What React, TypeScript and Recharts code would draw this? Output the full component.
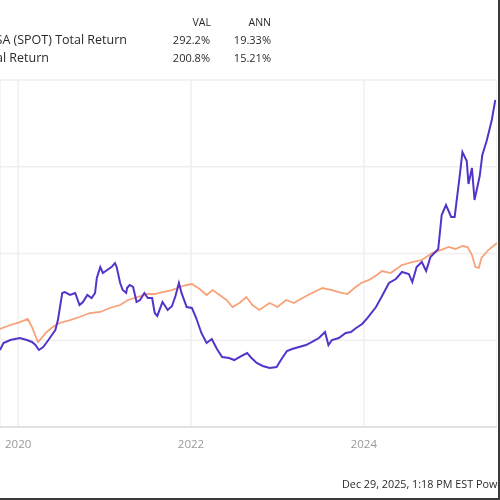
import { LineChart, Line, XAxis, YAxis, CartesianGrid } from 'recharts';

// decimal years and total return (%)
const spotDates = [
  2019.79, 2019.83, 2019.91, 2020.02, 2020.1, 2020.16, 2020.2, 2020.24, 2020.29, 2020.35,
  2020.39, 2020.43, 2020.46, 2020.51, 2020.54, 2020.6, 2020.66, 2020.71, 2020.75, 2020.8,
  2020.85, 2020.89, 2020.91, 2020.95, 2020.98, 2021.03, 2021.08, 2021.12, 2021.14, 2021.18,
  2021.21, 2021.25, 2021.26, 2021.29, 2021.33, 2021.37, 2021.41, 2021.46, 2021.5, 2021.55,
  2021.58, 2021.61, 2021.67, 2021.73, 2021.78, 2021.82, 2021.86, 2021.89, 2021.95, 2022.01,
  2022.06, 2022.12, 2022.18, 2022.24, 2022.3, 2022.36, 2022.44, 2022.5, 2022.58, 2022.65,
  2022.7, 2022.76, 2022.83, 2022.91, 2022.99, 2023.04, 2023.11, 2023.17, 2023.25, 2023.33,
  2023.4, 2023.48, 2023.55, 2023.59, 2023.63, 2023.71, 2023.79, 2023.85, 2023.91, 2023.98,
  2024.04, 2024.14, 2024.21, 2024.29, 2024.37, 2024.44, 2024.52, 2024.56, 2024.61, 2024.67,
  2024.72, 2024.77, 2024.86, 2024.9, 2024.95, 2025.01, 2025.05, 2025.11, 2025.14, 2025.19,
  2025.21, 2025.25, 2025.28, 2025.34, 2025.37, 2025.42, 2025.48, 2025.52,
];
const spotValues = [
  88.8, 96.8, 100.3, 102.6, 100.3, 98.0, 94.5, 88.8, 92.2, 100.3,
  106.0, 111.8, 123.3, 154.5, 155.6, 152.2, 154.5, 140.6, 144.1, 152.2,
  148.7, 154.5, 171.8, 184.4, 177.5, 181.0, 184.4, 189.0, 184.4, 166.0,
  157.9, 154.5, 160.2, 163.7, 161.4, 144.1, 146.4, 154.5, 148.7, 148.7,
  131.4, 128.0, 144.1, 134.9, 139.5, 151.0, 166.0, 154.5, 138.3, 137.2,
  125.6, 108.4, 96.8, 101.4, 89.9, 80.7, 79.5, 77.2, 81.8, 85.3,
  79.5, 73.8, 70.3, 68.0, 69.2, 77.2, 87.6, 89.9, 92.2, 94.5,
  98.0, 102.6, 109.5, 94.5, 100.3, 102.6, 108.4, 109.5, 114.1, 118.7,
  125.6, 138.3, 151.0, 166.0, 170.6, 178.7, 176.4, 167.1, 184.4, 190.2,
  179.8, 196.0, 205.2, 244.4, 255.9, 242.1, 242.1, 290.5, 317.0, 306.6,
  280.1, 298.6, 261.7, 289.3, 313.5, 329.7, 353.9, 376.9,
];

const spxDates = [
  2019.79, 2019.91, 2020.02, 2020.11, 2020.16, 2020.21, 2020.23, 2020.28, 2020.33, 2020.4,
  2020.48, 2020.6, 2020.71, 2020.83, 2020.95, 2021.06, 2021.18, 2021.27, 2021.35, 2021.49,
  2021.58, 2021.67, 2021.78, 2021.87, 2021.95, 2022.01, 2022.1, 2022.18, 2022.25, 2022.33,
  2022.41, 2022.48, 2022.56, 2022.64, 2022.71, 2022.79, 2022.91, 2023.0, 2023.1, 2023.19,
  2023.29, 2023.4, 2023.52, 2023.63, 2023.71, 2023.81, 2023.89, 2023.97, 2024.06, 2024.15,
  2024.21, 2024.31, 2024.44, 2024.56, 2024.67, 2024.79, 2024.89, 2024.98, 2025.06, 2025.14,
  2025.2, 2025.25, 2025.29, 2025.33, 2025.36, 2025.44, 2025.54,
];
const spxValues = [
  113.0, 117.6, 121.0, 124.5, 115.3, 102.6, 98.0, 103.7, 109.5, 115.3,
  119.9, 123.3, 126.8, 131.4, 132.6, 137.2, 140.6, 146.4, 148.7, 153.3,
  153.3, 155.6, 157.9, 161.4, 163.7, 164.8, 159.1, 152.2, 157.9, 152.2,
  146.4, 138.3, 142.9, 149.9, 140.6, 134.9, 142.9, 138.3, 146.4, 142.9,
  148.7, 154.5, 160.2, 157.9, 155.6, 153.3, 160.2, 166.0, 169.5, 175.2,
  179.8, 177.5, 186.7, 190.2, 192.5, 200.6, 204.0, 207.5, 205.2, 208.6,
  207.5, 198.3, 184.4, 183.3, 194.8, 204.0, 212.1,
];

const yearTicks = [2020, 2022, 2024];
const valueTicks = [0, 100, 200, 300, 400];

const legendRows = [
  { name: 'Spotify Technology SA (SPOT) Total Return', val: '292.2%', ann: '19.33%' },
  { name: 'S&P 500 Total Return', val: '200.8%', ann: '15.21%' },
];

const COLORS = {
  spot: '#5434c8',
  spx: '#f7a279',
  grid: '#efefef',
  axis: '#dcdcdc',
  label: '#999999',
  text: '#2a2a2a',
};

const spotData = spotDates.map((t, i) => ({ t, v: spotValues[i] }));
const spxData = spxDates.map((t, i) => ({ t, v: spxValues[i] }));

const font = '"Open Sans", Arial, sans-serif';

export default function App() {
  return (
    <div
      style={{
        position: 'absolute', left: 0, top: 0, width: 500, height: 500,
        background: '#fff', overflow: 'hidden', fontFamily: font, color: COLORS.text,
        boxSizing: 'border-box', borderRight: '2px solid #3a3a3a', borderBottom: '2px solid #3a3a3a',
        filter: 'blur(0.4px)',
      }}
    >
      <div style={{ position: 'absolute', right: 287, top: 15, fontSize: 10.5 }}>VAL</div>
      <div style={{ position: 'absolute', right: 227, top: 15, fontSize: 10.5 }}>ANN</div>
      {legendRows.map((r, i) => (
        <div key={r.name}>
          <div style={{ position: 'absolute', right: i === 0 ? 371 : 449, top: 31 + i * 18, fontSize: 12.5, whiteSpace: 'nowrap' }}>{r.name}</div>
          <div style={{ position: 'absolute', right: 288, top: 32 + i * 18, fontSize: 11 }}>{r.val}</div>
          <div style={{ position: 'absolute', right: 227, top: 32 + i * 18, fontSize: 11 }}>{r.ann}</div>
        </div>
      ))}

      <div style={{ position: 'absolute', left: 0, top: 78 }}>
        <LineChart width={497} height={379} margin={{ top: 2, right: 0, bottom: 0, left: 0 }}>
          <CartesianGrid stroke={COLORS.grid} strokeWidth={1.5} />
          <XAxis
            type="number"
            dataKey="t"
            domain={[2019.79, 2025.54]}
            ticks={yearTicks}
            allowDataOverflow
            tickFormatter={(v) => String(v)}
            axisLine={{ stroke: COLORS.axis, strokeWidth: 1.5 }}
            tickLine={false}
            tickMargin={7}
            height={30}
            tick={{ fill: COLORS.label, fontSize: 11.5, fontFamily: font }}
          />
          <YAxis hide domain={[0, 400]} ticks={valueTicks} />
          <Line data={spxData} dataKey="v" type="linear" stroke={COLORS.spx} strokeWidth={1.8} dot={false} isAnimationActive={false} />
          <Line data={spotData} dataKey="v" type="linear" stroke={COLORS.spot} strokeWidth={2} dot={false} isAnimationActive={false} />
        </LineChart>
      </div>

      <div style={{ position: 'absolute', left: 342, top: 476, fontSize: 10.8, whiteSpace: 'nowrap' }}>
        Dec 29, 2025, 1:18 PM EST  Powered by YCHARTS
      </div>
    </div>
  );
}
